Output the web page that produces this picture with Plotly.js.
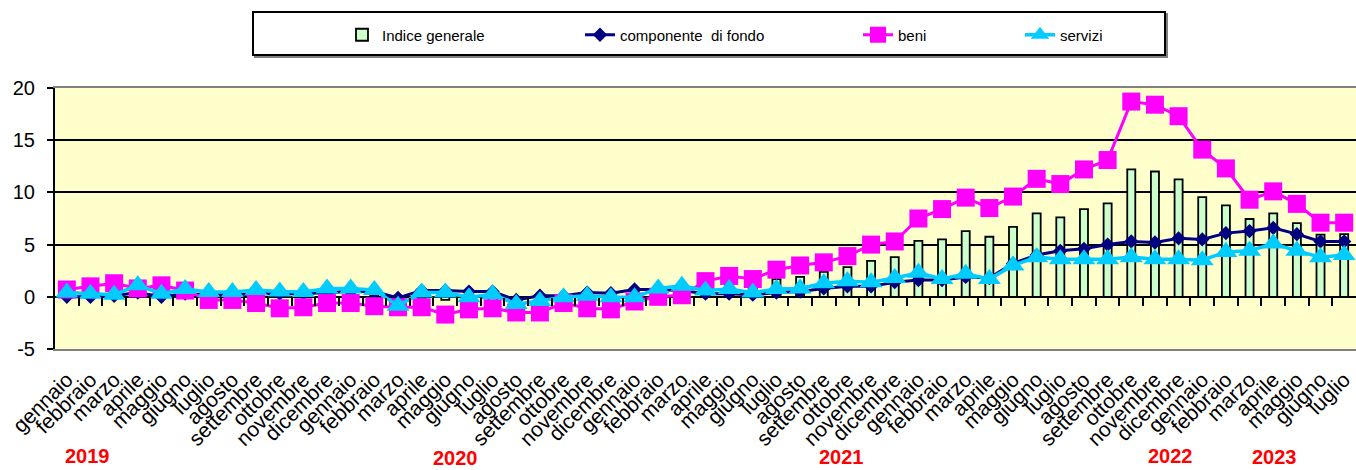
<!DOCTYPE html>
<html>
<head>
<meta charset="utf-8">
<script src="https://cdn.plot.ly/plotly-3.0.1.min.js"></script>
<style>
html,body{margin:0;padding:0;background:#ffffff;}
#chart{width:1356px;height:470px;}
</style>
</head>
<body>
<div id="chart"></div>
<script>
// ---- data ----
const months = [
  'gennaio','febbraio','marzo','aprile','maggio','giugno','luglio','agosto','settembre','ottobre','novembre','dicembre',
  'gennaio','febbraio','marzo','aprile','maggio','giugno','luglio','agosto','settembre','ottobre','novembre','dicembre',
  'gennaio','febbraio','marzo','aprile','maggio','giugno','luglio','agosto','settembre','ottobre','novembre','dicembre',
  'gennaio','febbraio','marzo','aprile','maggio','giugno','luglio','agosto','settembre','ottobre','novembre','dicembre',
  'gennaio','febbraio','marzo','aprile','maggio','giugno','luglio'
];
const years = ['2019','2020','2021','2022','2023'];

const indiceGenerale = [
  0.7, 0.9, 0.9, 1.0, 0.7, 0.6, 0.3, 0.3, 0.2, 0.1, 0.2, 0.4,
  0.4, 0.2, 0.0, -0.1, -0.3, -0.3, -0.4, -0.6, -0.7, -0.4, -0.3, -0.3,
  0.3, 0.5, 0.7, 1.0, 1.2, 1.2, 1.7, 1.9, 2.4, 2.85, 3.45, 3.8,
  5.35, 5.5, 6.3, 5.75, 6.7, 8.0, 7.6, 8.4, 8.95, 12.2, 12.0, 11.25,
  9.55, 8.75, 7.45, 8.0, 7.05, 5.95, 6.0
];
const componenteDiFondo = [
  0.0, 0.0, 0.1, 0.4, 0.0, 0.3, 0.2, 0.2, 0.3, 0.3, 0.3, 0.4,
  0.5, 0.5, -0.1, 0.6, 0.6, 0.5, 0.5, -0.3, 0.1, 0.1, 0.4, 0.35,
  0.7, 0.7, 0.6, 0.3, 0.3, 0.2, 0.4, 0.5, 0.8, 1.0, 1.0, 1.4,
  1.6, 1.6, 1.9, 1.8, 3.2, 4.0, 4.4, 4.6, 5.0, 5.3, 5.2, 5.6,
  5.5, 6.1, 6.3, 6.6, 6.0, 5.3, 5.3
];
const beni = [
  0.7, 1.0, 1.3, 0.8, 1.1, 0.6, -0.3, -0.3, -0.6, -1.1, -1.0, -0.6,
  -0.6, -0.9, -1.0, -1.0, -1.7, -1.2, -1.1, -1.5, -1.5, -0.6, -1.1, -1.2,
  -0.45, 0.0, 0.15, 1.5, 2.0, 1.7, 2.6, 3.0, 3.3, 3.9, 5.0, 5.3,
  7.5, 8.4, 9.5, 8.5, 9.6, 11.3, 10.8, 12.2, 13.1, 18.7, 18.4, 17.3,
  14.1, 12.3, 9.3, 10.1, 8.9, 7.1, 7.1
];
const servizi = [
  0.4, 0.3, 0.2, 1.1, 0.3, 0.75, 0.45, 0.45, 0.65, 0.5, 0.45, 0.8,
  0.8, 0.65, -0.85, 0.4, 0.4, -0.05, 0.25, -0.7, -0.4, -0.05, 0.1, -0.05,
  -0.05, 0.8, 1.05, 0.6, 0.75, 0.4, 0.75, 0.8, 1.3, 1.5, 1.4, 1.8,
  2.3, 1.7, 2.2, 1.7, 3.0, 3.8, 3.6, 3.6, 3.6, 3.8, 3.6, 3.6,
  3.5, 4.3, 4.4, 5.1, 4.4, 3.8, 4.0
];
const yTickVals = [-5, 0, 5, 10, 15, 20];
const yTickText = ['-5', '0', '5', '10', '15', '20'];

// ---- layout helpers ----
const FONT = 'Arial, "Liberation Sans", sans-serif';
const idx = months.map((m, i) => i);
const bounds = months.slice(1).map((m, i) => i + 0.5);

// year label placement (paper coordinates)
const yearPos = [
  {x: 0.0246, y: -0.41},
  {x: 0.3082, y: -0.418},
  {x: 0.6049, y: -0.414},
  {x: 0.8578, y: -0.41},
  {x: 0.9370, y: -0.414}
];
// legend entry anchors (container px)
const legendX = [342, 580, 858, 1020];
const legendYpx = 35;

const traces = [
  {type: 'bar', name: 'Indice generale', x: idx, y: indiceGenerale,
   xaxis: 'x', yaxis: 'y', legend: 'legend',
   marker: {color: '#CCFFCC', line: {color: '#000000', width: 1.8}}},
  {type: 'scatter', mode: 'lines+markers', name: 'componente\u00a0\u00a0di fondo',
   x: idx, y: componenteDiFondo, xaxis: 'x2', yaxis: 'y', legend: 'legend2',
   line: {color: '#000080', width: 3},
   marker: {symbol: 'diamond', size: 11, color: '#000080'}},
  {type: 'scatter', mode: 'lines+markers', name: 'beni',
   x: idx, y: beni, xaxis: 'x2', yaxis: 'y', legend: 'legend3',
   line: {color: '#FF00FF', width: 3},
   marker: {symbol: 'square', size: 18, color: '#FF00FF'}},
  {type: 'scatter', mode: 'lines+markers', name: 'servizi',
   x: idx, y: servizi, xaxis: 'x2', yaxis: 'y', legend: 'legend4',
   line: {color: '#00CCFF', width: 3.5},
   marker: {symbol: 'triangle-up', size: 20, color: '#00CCFF'}}
];

function legendCfg(px) {
  return {x: px / 1356, y: 1 - legendYpx / 470, xref: 'container', yref: 'container',
          xanchor: 'left', yanchor: 'middle', orientation: 'h',
          bgcolor: 'rgba(0,0,0,0)', borderwidth: 0,
          font: {family: FONT, size: 15, color: '#000000'}};
}

const plotL = 55, plotW = 1301, plotTop = 88, plotH = 261;
function px2paperX(px) { return (px - plotL) / plotW; }
function py2paperY(py) { return (plotTop + plotH - py) / plotH; }

const layout = {
  width: 1356, height: 470,
  margin: {l: plotL, r: 0, t: plotTop, b: 470 - plotTop - plotH, pad: 0},
  paper_bgcolor: '#ffffff', plot_bgcolor: '#FFFFCC',
  font: {family: FONT, color: '#000000'},
  bargap: 0.66,
  showlegend: true,
  xaxis: {
    range: [-0.5, 54.5], tickmode: 'array', tickvals: idx, ticktext: months,
    tickangle: -45, tickfont: {family: FONT, size: 21, color: '#000000'},
    showgrid: false, zeroline: false, showline: true, linecolor: '#808080',
    linewidth: 2, mirror: true, ticks: '', ticklabelstandoff: 8, automargin: false
  },
  xaxis2: {
    overlaying: 'x', anchor: 'free', position: 0.2, side: 'bottom',
    range: [-0.5, 54.5], tickmode: 'array', tickvals: bounds,
    ticks: 'outside', ticklen: 8, tickwidth: 2, tickcolor: '#000000',
    showticklabels: false, showgrid: false, zeroline: false, showline: false
  },
  yaxis: {
    range: [-5, 20], tickmode: 'array', tickvals: yTickVals, ticktext: yTickText,
    tickfont: {family: FONT, size: 20, color: '#000000'},
    ticks: 'outside', ticklen: 6, tickwidth: 2, tickcolor: '#000000',
    showline: true, linecolor: '#000000', linewidth: 2,
    showgrid: true, gridcolor: '#000000', gridwidth: 2,
    zeroline: true, zerolinecolor: '#000000', zerolinewidth: 2,
    ticklabelstandoff: 8, automargin: false
  },
  legend: legendCfg(legendX[0]),
  legend2: legendCfg(legendX[1]),
  legend3: legendCfg(legendX[2]),
  legend4: legendCfg(legendX[3]),
  shapes: [
    {type: 'rect', xref: 'paper', yref: 'paper', layer: 'below',
     x0: px2paperX(255), x1: px2paperX(1167), y0: py2paperY(57), y1: py2paperY(14),
     line: {color: '#808080', width: 2}, fillcolor: '#808080'},
    {type: 'rect', xref: 'paper', yref: 'paper', layer: 'below',
     x0: px2paperX(253), x1: px2paperX(1165), y0: py2paperY(55), y1: py2paperY(12),
     line: {color: '#000000', width: 2}, fillcolor: '#ffffff'}
  ],
  annotations: years.map((t, i) => ({
    text: t, xref: 'paper', yref: 'paper', x: yearPos[i].x, y: yearPos[i].y,
    xanchor: 'center', yanchor: 'middle', showarrow: false,
    font: {family: FONT, size: 20, color: '#FF0000', weight: 'bold'}
  }))
};

Plotly.newPlot('chart', traces, layout, {displayModeBar: false, staticPlot: true});
</script>
</body>
</html>
